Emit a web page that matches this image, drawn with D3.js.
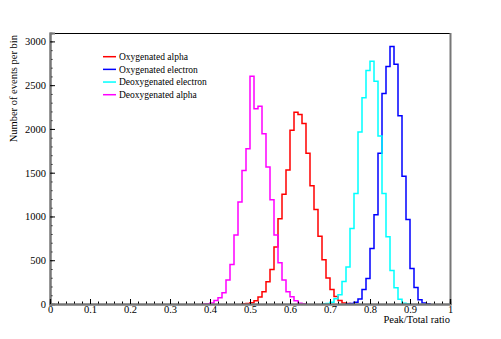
<!DOCTYPE html>
<html>
<head>
<meta charset="utf-8">
<script src="https://cdn.jsdelivr.net/npm/d3@7"></script>
<style>
  html, body { margin: 0; padding: 0; background: #fff; }
  svg { display: block; }
  text { font-family: "Liberation Serif", "DejaVu Serif", serif; fill: #000; }
</style>
</head>
<body>
<svg id="chart" width="501" height="339"></svg>
<script>
// ---- Data ----
const binWidth = 0.01;
const seriesNames = ["Oxygenated alpha", "Oxygenated electron", "Deoxygenated electron", "Deoxygenated alpha"];
const seriesColors = ["#ff0000", "#0000ff", "#00ffff", "#ff00ff"];

// first bin low edge for each series
const oxyAlphaStart = 0.48;
const oxyAlphaCounts = [3, 5, 15, 38, 80, 140, 254, 395, 650, 975, 1255, 1530, 1984, 2192, 2166, 2062, 1722, 1352, 1080, 775, 505, 296, 165, 87, 41, 12, 5];

const oxyElectronStart = 0.74;
const oxyElectronCounts = [2, 5, 21, 57, 167, 290, 635, 1020, 1722, 2405, 2712, 2942, 2738, 2150, 1460, 966, 405, 188, 49, 11, 3];

const deoxyElectronStart = 0.68;
const deoxyElectronCounts = [2, 5, 21, 60, 106, 256, 422, 863, 1262, 1965, 2357, 2667, 2774, 2545, 1920, 1262, 768, 382, 186, 55, 8, 2];

const deoxyAlphaStart = 0.38;
const deoxyAlphaCounts = [1, 3, 12, 40, 70, 129, 274, 452, 787, 1166, 1526, 1775, 2603, 2231, 2259, 1946, 1565, 1190, 787, 472, 274, 140, 83, 38, 10, 3];

const xTicks = [0, 0.1, 0.2, 0.3, 0.4, 0.5, 0.6, 0.7, 0.8, 0.9, 1];
const xTickLabels = ["0", "0.1", "0.2", "0.3", "0.4", "0.5", "0.6", "0.7", "0.8", "0.9", "1"];
const yTicks = [0, 500, 1000, 1500, 2000, 2500, 3000];
const xTitle = "Peak/Total ratio";
const yTitle = "Number of events per bin";

// ---- Layout ----
const svg = d3.select("#chart");
const L = 50, R = 450, T = 33, B = 304;
const x = d3.scaleLinear().domain([0, 1]).range([L, R]);
const y = d3.scaleLinear().domain([0, 3096]).range([B, T]);

const series = [
  { start: oxyAlphaStart, counts: oxyAlphaCounts },
  { start: oxyElectronStart, counts: oxyElectronCounts },
  { start: deoxyElectronStart, counts: deoxyElectronCounts },
  { start: deoxyAlphaStart, counts: deoxyAlphaCounts }
];

// histograms as step outlines
const line = d3.line().x(d => x(d[0])).y(d => y(d[1]));
series.forEach((s, i) => {
  const pts = [[s.start, 0]];
  s.counts.forEach((c, k) => {
    const lo = s.start + k * binWidth;
    pts.push([lo, c]);
    pts.push([lo + binWidth, c]);
  });
  pts.push([s.start + s.counts.length * binWidth, 0]);
  svg.append("path")
    .attr("d", line(pts))
    .attr("fill", "none")
    .attr("stroke", seriesColors[i])
    .attr("stroke-width", 1.5)
    .attr("stroke-linejoin", "miter");
});

// frame: top black thin
svg.append("line").attr("x1", L).attr("x2", R).attr("y1", T + 0.5).attr("y2", T + 0.5)
  .attr("stroke", "#000").attr("stroke-width", 1);
// right gray
svg.append("line").attr("x1", R + 0.5).attr("x2", R + 0.5).attr("y1", T).attr("y2", B + 1)
  .attr("stroke", "#777").attr("stroke-width", 2);

// Y axis
const yMinor = d3.range(0, 3001, 100);
const gyMinor = svg.append("g").attr("transform", `translate(${L},0)`)
  .call(d3.axisLeft(y).tickValues(yMinor).tickSize(-2.5).tickFormat(""));
const gy = svg.append("g").attr("transform", `translate(${L},0)`)
  .call(d3.axisLeft(y).tickValues(yTicks).tickSize(-5).tickPadding(4).tickFormat(d3.format("d")));

// X axis
const xMinor = d3.range(0, 51).map(i => i * 0.02);
const gxMinor = svg.append("g").attr("transform", `translate(0,${B})`)
  .call(d3.axisBottom(x).tickValues(xMinor).tickSize(-2.5).tickFormat(""));
const gx = svg.append("g").attr("transform", `translate(0,${B})`)
  .call(d3.axisBottom(x).tickValues(xTicks).tickSize(-5).tickPadding(2)
    .tickFormat((d, i) => xTickLabels[i]));

[gy, gyMinor, gx, gxMinor].forEach(g => {
  g.select(".domain").attr("stroke", "#777").attr("stroke-width", 2);
  g.selectAll(".tick line").attr("stroke", "#000").attr("stroke-width", 1);
  g.selectAll("text").style("font-family", '"Liberation Serif", serif').style("font-size", "10.5px").attr("fill", "#000");
});
gx.selectAll("text").attr("dy", "0.71em");

// titles
svg.append("text")
  .attr("x", R).attr("y", 323)
  .attr("text-anchor", "end")
  .style("font-size", "10.5px")
  .text(xTitle);
svg.append("text")
  .attr("transform", `translate(16.5,35) rotate(-90)`)
  .attr("text-anchor", "end")
  .style("font-size", "10.5px")
  .text(yTitle);

// legend
const lg = svg.append("g");
seriesNames.forEach((name, i) => {
  const yy = 56.7 + i * 12.67;
  lg.append("line").attr("x1", 103).attr("x2", 116).attr("y1", yy).attr("y2", yy)
    .attr("stroke", seriesColors[i]).attr("stroke-width", 1.5);
  lg.append("text").attr("x", 119).attr("y", yy + 3.3)
    .style("font-size", "9.5px").text(name);
});
</script>
</body>
</html>
